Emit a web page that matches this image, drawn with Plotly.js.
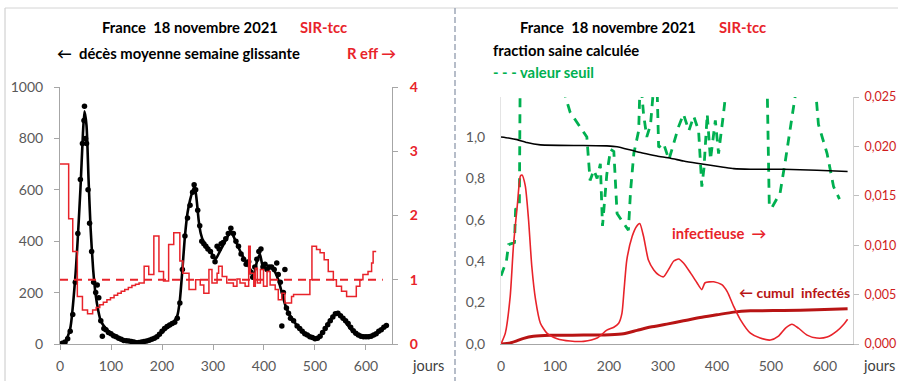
<!DOCTYPE html>
<html><head><meta charset="utf-8">
<script src="https://cdn.plot.ly/plotly-3.0.1.min.js"></script>
<style>html,body{margin:0;padding:0;background:#fff;}#c{width:898px;height:381px;}</style>
</head><body><div id="c"></div>
<script>
// ---------- DATA ----------
// Left panel: deaths (7-day moving average), observed dots
const obsDays = [0,5,10,15,20,25,30,35,40,44,47,48,50,52,55,58,62,66,70,73,76,80,83,86,90,95,100,105,110,115,120,125,130,135,140,145,150,155,160,165,170,175,180,185,190,195,200,205,210,215,220,225,230,235,240,245,250,255,260,263,266,270,274,278,282,286,290,295,300,304,308,312,316,320,325,330,335,340,345,350,355,360,365,370,374,378,382,386,390,394,398,402,406,410,415,420,425,428,432,435,438,441,444,448,452,458,465,470,475,480,485,490,495,500,505,510,515,520,525,530,535,540,545,550,555,560,565,570,575,580,585,590,595,600,605,610,615,620,625,630,635,640];
const obsDeaths = [0,3,8,20,50,115,240,430,640,780,870,925,800,780,600,470,360,240,200,230,180,90,30,60,55,45,40,32,28,22,18,14,13,12,10,8,5,6,8,10,12,15,18,22,28,38,50,60,68,74,80,85,100,160,290,420,490,540,590,620,600,520,460,400,390,380,370,360,340,320,380,370,390,395,410,430,450,430,400,380,350,330,310,320,280,260,300,330,360,370,300,310,290,300,300,290,315,270,240,70,200,290,140,120,100,90,70,60,50,40,35,28,25,20,22,30,45,60,75,90,105,118,120,110,100,90,80,65,52,42,35,30,28,28,28,30,35,40,50,55,65,72];
// Left panel: deaths, model line
const modelDays = [0,10,20,30,40,45,48,52,56,60,65,70,75,80,90,100,110,120,130,140,150,160,170,180,190,200,210,220,230,235,240,245,250,255,260,264,268,272,276,282,290,298,305,312,320,328,334,340,348,356,365,372,380,386,392,398,405,412,420,428,435,442,450,460,470,480,490,500,510,520,530,540,550,560,570,580,590,600,610,620,630,640];
const modelDeaths = [0,8,60,260,600,820,905,850,640,450,290,190,130,90,60,42,30,20,14,10,8,8,12,18,30,45,62,78,110,170,290,420,510,560,595,615,560,480,430,395,375,350,330,355,385,415,440,420,385,350,320,295,270,320,350,300,295,300,285,250,200,150,115,85,58,40,28,22,32,60,95,118,110,85,58,40,32,30,32,38,55,75];
// Left panel: R eff (step function, value holds until next day)
const rDays = [0,17,25,34,44,54,64,71,78,85,92,99,106,113,120,127,134,141,148,155,165,174,184,194,203,213,223,235,241,253,266,275,282,292,298,308,311,318,327,340,347,353,363,370,373,380,383,387,393,399,406,412,422,428,435,441,454,458,490,494,503,510,518,526,536,542,552,562,581,588,594,604,611,614,620];
const rEff = [2.80,1.95,1.44,0.74,0.53,0.47,0.53,0.57,0.61,0.65,0.69,0.72,0.76,0.79,0.82,0.85,0.88,0.91,0.93,0.95,1.21,1.08,1.68,1.13,0.98,1.55,1.73,1.29,1.10,0.85,1.00,0.92,0.79,1.16,0.95,1.10,1.21,1.05,0.95,0.90,1.01,0.95,0.90,1.52,1.10,0.90,1.18,0.95,1.16,0.90,1.13,0.92,0.85,0.69,0.79,0.64,0.74,0.77,1.00,1.52,1.47,1.42,1.31,1.13,1.00,0.90,0.82,0.74,0.90,1.00,1.08,1.13,1.26,1.44,1.44];
const rThreshDays = [0,633];
const rThresh = [1,1];

// Right panel: healthy fraction
const sainDays = [0,14,30,48,73,196,215,240,264,289,314,338,363,388,412,431,462,523,585,642];
const sain = [1.0,0.995,0.987,0.973,0.962,0.957,0.953,0.937,0.921,0.908,0.897,0.884,0.873,0.863,0.854,0.847,0.844,0.844,0.839,0.833];
// Right panel: threshold value (dashed green)
const seuilDays = [0,10,14,25,27,34,36,113,128,141,159,165,172,178,184,188,196,203,209,215,222,228,236,240,246,255,258,264,270,277,283,289,292,301,311,320,329,338,348,357,366,372,376,382,388,397,403,412,418,493,497,502,517,527,536,548,582,588,604,616,627];
const seuil = [0.33,0.40,0.48,0.49,0.65,0.66,1.5,1.25,1.12,1.07,1.0,0.79,0.84,0.80,0.87,0.57,0.82,0.94,0.93,0.63,0.60,0.58,0.55,0.74,0.92,1.03,1.3,1.11,1.0,1.06,1.25,1.25,0.95,0.97,0.89,0.97,1.05,1.11,1.03,1.10,1.03,0.76,0.85,1.11,0.89,1.08,0.92,1.11,1.25,1.25,0.66,0.66,0.73,0.89,1.06,1.25,1.25,1.06,0.92,0.76,0.70];
// Right panel: infectious fraction (right axis)
const infDays = [0,8,17,23,30,36,39,45,51,57,64,73,85,104,128,153,178,196,209,218,224,228,233,243,251,257,264,273,283,292,301,310,320,329,338,351,363,372,378,394,409,419,431,443,462,480,499,514,527,539,551,567,585,604,622,635,642];
const infect = [0,0.0011,0.0048,0.0099,0.0139,0.0170,0.0171,0.0160,0.0126,0.0079,0.0045,0.0021,0.0011,0.00054,0.0003,0.00027,0.0006,0.0014,0.0017,0.0021,0.0031,0.0055,0.0085,0.0109,0.0119,0.0122,0.0109,0.0085,0.0075,0.0070,0.0068,0.0075,0.0084,0.0086,0.0082,0.0072,0.0062,0.0055,0.0062,0.0063,0.0060,0.0053,0.0038,0.0025,0.0011,0.0006,0.0004,0.0008,0.0016,0.0020,0.0016,0.0009,0.0006,0.0007,0.0013,0.0020,0.0025];
// Right panel: cumulative infected fraction
const cumDays = [0,17,30,42,60,91,153,202,227,252,277,307,338,369,400,431,462,523,585,642];
const cumul = [0,0.005,0.016,0.027,0.037,0.042,0.043,0.045,0.050,0.066,0.082,0.096,0.112,0.128,0.141,0.154,0.160,0.162,0.165,0.170];

// Tick labels
const xTicks = [0,100,200,300,400,500,600];
const xTickText = ["0","100","200","300","400","500","600"];
const deathTicks = [0,200,400,600,800,1000];
const deathTickText = ["0","200","400","600","800","1000"];
const rTicks = [0,1,2,3,4];
const rTickText = ["0","1","2","3","4"];
const fracTicks = [0,0.2,0.4,0.6,0.8,1.0];
const fracTickText = ["0,0","0,2","0,4","0,6","0,8","1,0"];
const infTicks = [0,0.005,0.010,0.015,0.020,0.025];
const infTickText = ["0,000","0,005","0,010","0,015","0,020","0,025"];

// ---------- STYLE ----------
const W = 898, H = 381;
const px = x => x / W;
const py = y => (H - y) / H;
const FONT = "Lato, 'Open Sans', sans-serif";
const RED = "#e8232a", DARKRED = "#b81414", GREEN = "#00b050", GRAY = "#595959", AX = "#a6a6a6";
const BSIZE = 14.8;

const traces = [
  {x: modelDays, y: modelDeaths, xaxis:'x', yaxis:'y', mode:'lines', line:{color:'#000', width:2.6, shape:'spline', smoothing:0.6}},
  {x: obsDays, y: obsDeaths, xaxis:'x', yaxis:'y', mode:'markers', marker:{color:'#000', size:5.5}},
  {x: rThreshDays, y: rThresh, xaxis:'x', yaxis:'y2', mode:'lines', line:{color:RED, width:2, dash:'8px,6px'}},
  {x: rDays, y: rEff, xaxis:'x', yaxis:'y2', mode:'lines', line:{color:RED, width:1.5, shape:'hv'}},
  {x: seuilDays, y: seuil, xaxis:'x2', yaxis:'y3', mode:'lines', line:{color:GREEN, width:2.8, dash:'9px,7px'}},
  {x: sainDays, y: sain, xaxis:'x2', yaxis:'y3', mode:'lines', line:{color:'#000', width:1.6, shape:'spline', smoothing:0.5}},
  {x: cumDays, y: cumul, xaxis:'x2', yaxis:'y3', mode:'lines', line:{color:DARKRED, width:3, shape:'spline', smoothing:0.6}},
  {x: infDays, y: infect, xaxis:'x2', yaxis:'y4', mode:'lines', line:{color:RED, width:1.6, shape:'spline', smoothing:0.6}}
];

const tickGray = {family:FONT, size:14, color:GRAY};
const baseAx = {showgrid:false, zeroline:false, showline:true, linecolor:AX, linewidth:1, ticks:'outside', ticklen:5, tickcolor:AX, tickfont:tickGray, fixedrange:true};

const ann = (text, x, y, opts={}) => Object.assign({text, x:px(x), y:py(y), xref:'paper', yref:'paper', showarrow:false, xanchor:'left', yanchor:'middle',
  font:{family:FONT, size:BSIZE, color:'#000', weight:'bold'}}, opts);

const layout = {
  width: W, height: H, margin:{l:0,r:0,t:0,b:0}, paper_bgcolor:'#fff', plot_bgcolor:'rgba(0,0,0,0)', showlegend:false,
  xaxis: Object.assign({}, baseAx, {domain:[px(60), px(392)], range:[0,651], tickvals:xTicks, ticktext:xTickText, anchor:'y', ticklabelstandoff:4}),
  yaxis: Object.assign({}, baseAx, {domain:[py(344), py(87)], range:[0,1000], tickvals:deathTicks, ticktext:deathTickText, anchor:'x', ticklabelstandoff:8}),
  yaxis2: Object.assign({}, baseAx, {overlaying:'y', side:'right', anchor:'x', range:[0,4], tickvals:rTicks, ticktext:rTickText, ticklabelstandoff:9,
    tickfont:{family:FONT, size:14, color:RED, weight:'bold'}}),
  xaxis2: Object.assign({}, baseAx, {domain:[px(501), px(853)], range:[0,652], tickvals:xTicks, ticktext:xTickText, anchor:'y3', ticks:'', ticklabelstandoff:9}),
  yaxis3: Object.assign({}, baseAx, {domain:[py(344), py(97)], range:[0,1.193], tickvals:fracTicks, ticktext:fracTickText, anchor:'x2', ticks:'', linecolor:'#e4e4e4', ticklabelstandoff:12}),
  yaxis4: Object.assign({}, baseAx, {overlaying:'y3', side:'right', anchor:'x2', range:[0,0.025], tickvals:infTicks, ticktext:infTickText, ticklabelstandoff:3,
    tickcolor:'#bfbfbf', linecolor:'#d0d0d0', tickfont:{family:FONT, size:12.5, color:'#d01c1c'}}),
  shapes: [
    {type:'line', xref:'paper', yref:'paper', x0:px(5), x1:px(5), y0:py(8), y1:0, line:{color:'#c8c8c8', width:1}},
    {type:'line', xref:'paper', yref:'paper', x0:px(5), x1:1, y0:py(8), y1:py(8), line:{color:'#d4d4d4', width:1}},
    {type:'line', xref:'paper', yref:'paper', x0:px(455), x1:px(455), y0:py(8), y1:0, line:{color:'#9fa8b8', width:1.5, dash:'6px,3px'}}
  ],
  annotations: [
    ann('France  18 novembre 2021', 100, 27),
    ann('SIR-tcc', 298, 27, {font:{family:FONT, size:BSIZE, color:RED, weight:'bold'}}),
    ann('←  décès moyenne semaine glissante', 55, 53),
    ann('R eff →', 345, 53, {font:{family:FONT, size:BSIZE, color:RED, weight:'bold'}}),
    ann('jours', 410, 365, {font:{family:FONT, size:14.5, color:'#404040'}}),
    ann('France  18 novembre 2021', 518, 27),
    ann('SIR-tcc', 717, 27, {font:{family:FONT, size:BSIZE, color:RED, weight:'bold'}}),
    ann('fraction saine calculée', 491, 50),
    ann('- - - valeur seuil', 491, 72, {font:{family:FONT, size:BSIZE, color:GREEN, weight:'bold'}}),
    ann('infectieuse  →', 670, 233, {font:{family:FONT, size:BSIZE, color:RED, weight:'bold'}}),
    ann('← cumul  infectés', 737, 292, {font:{family:FONT, size:14, color:DARKRED, weight:'bold'}}),
    ann('jours', 861, 365, {font:{family:FONT, size:14.5, color:'#404040'}})
  ]
};

Plotly.newPlot('c', traces, layout, {staticPlot:true, displayModeBar:false});
</script>
</body></html>
